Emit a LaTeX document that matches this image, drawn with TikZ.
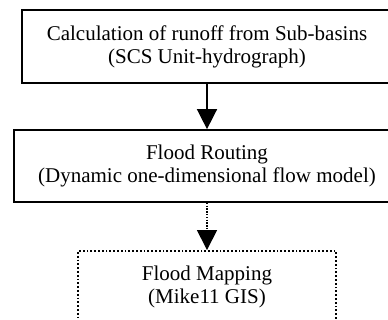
\documentclass[tikz,border=0pt]{standalone}
\usepackage{fontspec}
\setmainfont{Liberation Serif}
\usetikzlibrary{arrows.meta}
\begin{document}
\begin{tikzpicture}[x=1pt,y=-1pt,
  boxtext/.style={align=center,font=\fontsize{21}{23}\selectfont,inner sep=0pt},
  solidbox/.style={draw,line width=1.7pt,boxtext},
  dotbox/.style={draw,line width=1.9pt,dash pattern=on 1.9pt off 1.9pt,boxtext},
  conn/.style={line width=1.5pt,-{Triangle[length=20pt,width=20pt]}},
  dotconn/.style={conn,dash pattern=on 1.4pt off 1.4pt}]
\useasboundingbox (0,0) rectangle (388,320);
\clip (0,0) rectangle (388,320);
\node[solidbox,minimum width=370pt,minimum height=73pt] (a) at (207,46.5)
  {Calculation of runoff from Sub-basins\\(SCS Unit-hydrograph)};
\node[solidbox,minimum width=386pt,minimum height=72pt] (b) at (207,166)
  {Flood Routing\\(Dynamic one-dimensional flow model)};
\node[dotbox,minimum width=258pt,minimum height=72pt] (c) at (207,287)
  {Flood Mapping\\(Mike11 GIS)};
\draw[conn] (a.south) -- (b.north);
\draw[dotconn] (b.south) -- (c.north);
\end{tikzpicture}
\end{document}
